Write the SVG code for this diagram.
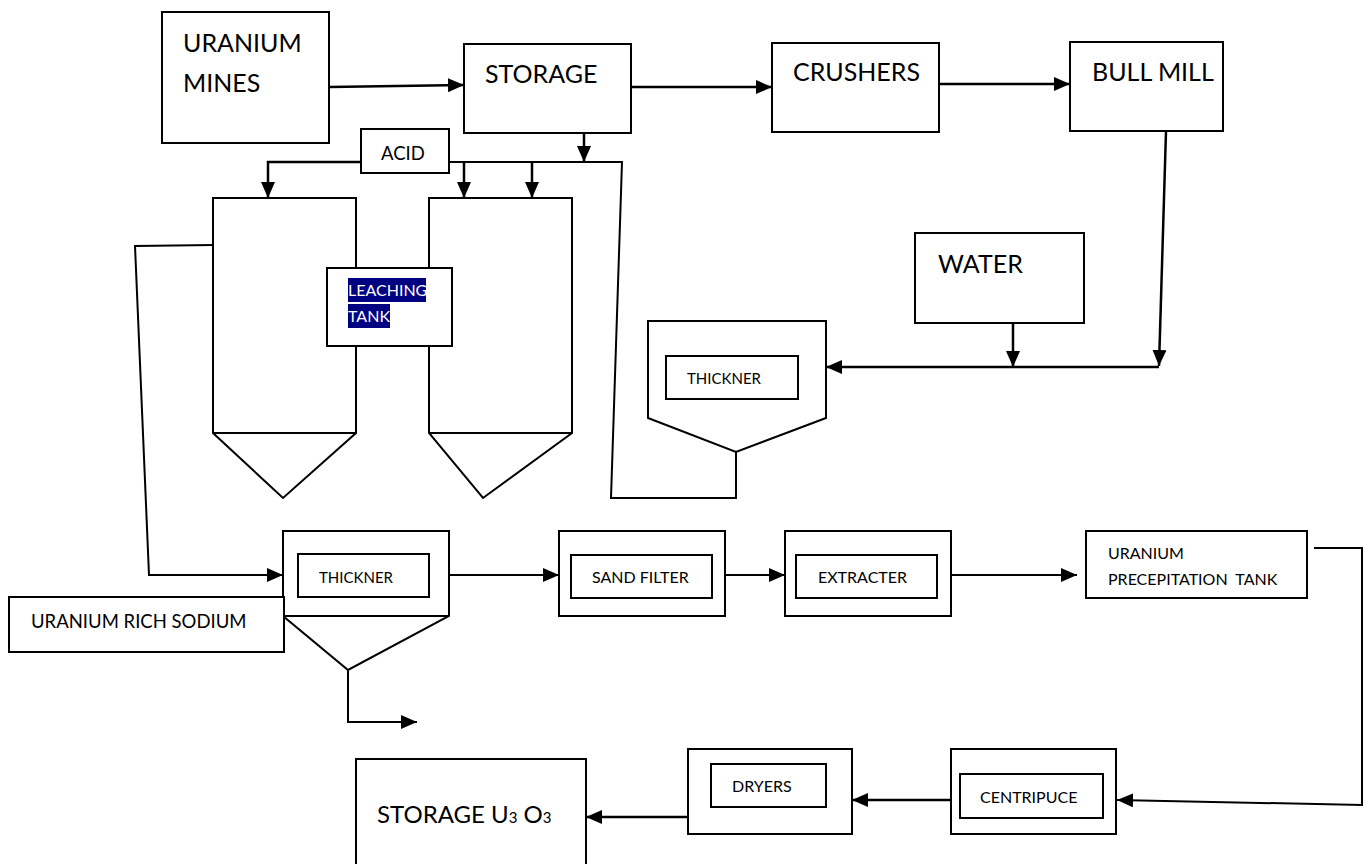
<svg xmlns="http://www.w3.org/2000/svg" width="1364" height="864" viewBox="0 0 1364 864">
<style>
.box{fill:#fff;stroke:#000;stroke-width:2}
.ln{fill:none;stroke:#000;stroke-width:2.5}
.thin{fill:none;stroke:#000;stroke-width:2}
text{font-family:Lato,"Liberation Sans",sans-serif;fill:#000}
.big{font-size:25px}
.mid{font-size:18.5px}
.sm{font-size:16px}
.th{font-size:15px}
.hl{fill:#000080}
.wt{fill:#fff;font-size:16px}
</style>
<defs>
<marker id="ah" markerUnits="userSpaceOnUse" markerWidth="16" markerHeight="14" refX="16" refY="7" orient="auto">
<path d="M0,0 L16,7 L0,14 Z" fill="#000"/>
</marker>
</defs>
<rect width="1364" height="864" fill="#fff"/>
<g id="connectors">
<path class="ln" d="M329,87 L464,85" marker-end="url(#ah)"/>
<path class="ln" d="M631,87 L772,87" marker-end="url(#ah)"/>
<path class="ln" d="M939,84 L1070,84" marker-end="url(#ah)"/>
<path class="ln" d="M584,133 L584,162" marker-end="url(#ah)"/>
<path class="ln" d="M361,162 L268,162 L268,198" marker-end="url(#ah)"/>
<path class="thin" d="M449,162 L622,162 L611,498 L736,498 L736,452"/>
<path class="ln" d="M464,162 L464,198" marker-end="url(#ah)"/>
<path class="ln" d="M532,162 L532,198" marker-end="url(#ah)"/>
<path class="thin" d="M213,245 L135,246 L149,575 L283,575" marker-end="url(#ah)"/>
<path class="ln" d="M1166,131 L1159,366" marker-end="url(#ah)"/>
<path class="ln" d="M1159,367 L826,367" marker-end="url(#ah)"/>
<path class="ln" d="M1013,323 L1013,367" marker-end="url(#ah)"/>
<path class="thin" d="M348,670 L348,722 L417,722" marker-end="url(#ah)"/>
<path class="thin" d="M449,575 L559,575" marker-end="url(#ah)"/>
<path class="thin" d="M725,575 L785,575" marker-end="url(#ah)"/>
<path class="thin" d="M951,575 L1077,575" marker-end="url(#ah)"/>
<path class="thin" d="M1314,548 L1362,548 L1362,805 L1117,800" marker-end="url(#ah)"/>
<path class="ln" d="M951,800 L852,800" marker-end="url(#ah)"/>
<path class="ln" d="M688,817 L586,817" marker-end="url(#ah)"/>
</g>
<g id="uranium-mines">
<rect class="box" x="162" y="12" width="167" height="131"/>
<text class="big" x="183" y="52">URANIUM</text>
<text class="big" x="183" y="92">MINES</text>
</g>
<g id="storage">
<rect class="box" x="464" y="44" width="167" height="89"/>
<text class="big" x="485" y="83">STORAGE</text>
</g>
<g id="crushers">
<rect class="box" x="772" y="43" width="167" height="89"/>
<text class="big" x="793" y="81">CRUSHERS</text>
</g>
<g id="bull-mill">
<rect class="box" x="1070" y="42" width="153" height="89"/>
<text class="big" x="1092" y="81">BULL MILL</text>
</g>
<g id="acid">
<rect class="box" x="361" y="129" width="88" height="44"/>
<text class="mid" x="381" y="160">ACID</text>
</g>
<g id="leaching-tank-1">
<path class="box" d="M213,198 L356,198 L356,433 L283,498 L213,433 Z M213,433 L356,433"/>
</g>
<g id="leaching-tank-2">
<path class="box" d="M429,198 L572,198 L572,433 L483,498 L429,433 Z M429,433 L572,433"/>
</g>
<g id="leaching-label">
<rect class="box" x="327" y="268" width="125" height="78"/>
<rect class="hl" x="348" y="278" width="78" height="24"/>
<rect class="hl" x="348" y="304" width="42" height="24"/>
<text class="wt" x="348" y="296">LEACHING</text>
<text class="wt" x="348" y="322">TANK</text>
</g>
<g id="water">
<rect class="box" x="915" y="233" width="169" height="90"/>
<text class="big" x="938" y="273">WATER</text>
</g>
<g id="thickner-1">
<path class="box" d="M648,321 L826,321 L826,418 L736,452 L648,418 Z"/>
<rect class="box" x="666" y="356" width="132" height="43"/>
<text class="th" x="687" y="384">THICKNER</text>
</g>
<g id="thickner-2">
<path class="box" d="M283,531 L449,531 L449,616 L348,670 L283,616 Z M283,616 L449,616"/>
<rect class="box" x="298" y="554" width="131" height="43"/>
<text class="th" x="319" y="583">THICKNER</text>
</g>
<g id="uranium-rich-sodium">
<rect class="box" x="9" y="597" width="275" height="55"/>
<text class="mid" x="31" y="628">URANIUM RICH SODIUM</text>
</g>
<g id="sand-filter">
<rect class="box" x="559" y="531" width="166" height="85"/>
<rect class="box" x="571" y="555" width="141" height="43"/>
<text class="sm" x="592" y="583">SAND FILTER</text>
</g>
<g id="extracter">
<rect class="box" x="785" y="531" width="166" height="85"/>
<rect class="box" x="796" y="555" width="141" height="43"/>
<text class="sm" x="818" y="583">EXTRACTER</text>
</g>
<g id="precipitation-tank">
<rect class="box" x="1086" y="531" width="221" height="67"/>
<text class="sm" x="1108" y="559">URANIUM</text>
<text class="sm" x="1108" y="585" xml:space="preserve">PRECEPITATION  TANK</text>
</g>
<g id="centripuce">
<rect class="box" x="951" y="749" width="165" height="85"/>
<rect class="box" x="960" y="774" width="143" height="44"/>
<text class="sm" x="980" y="803">CENTRIPUCE</text>
</g>
<g id="dryers">
<rect class="box" x="688" y="749" width="164" height="85"/>
<rect class="box" x="711" y="764" width="115" height="43"/>
<text class="sm" x="732" y="792">DRYERS</text>
</g>
<g id="storage-u3o3">
<rect class="box" x="356" y="759" width="230" height="115"/>
<text x="377" y="823" style="font-size:24px">STORAGE U<tspan style="font-size:15px">3</tspan> O<tspan style="font-size:15px">3</tspan></text>
</g>
</svg>
